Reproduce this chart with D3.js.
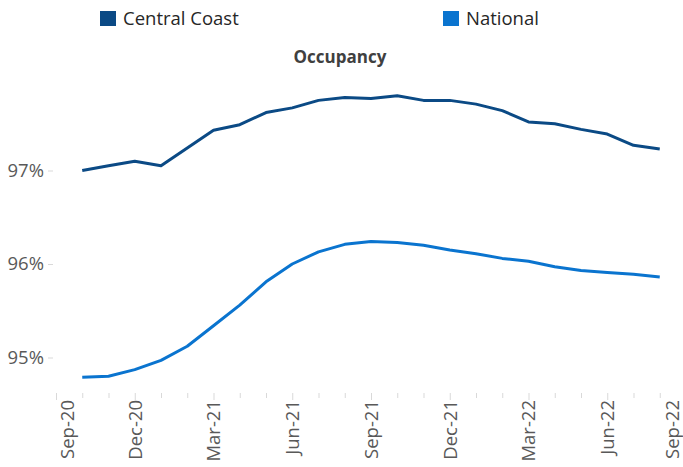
<!DOCTYPE html>
<html>
<head>
<meta charset="utf-8">
<script src="https://cdn.jsdelivr.net/npm/d3@7"></script>
<style>
  body { margin: 0; background: #fff; }
  svg { display: block; font-family: "Open Sans", sans-serif; }
</style>
</head>
<body>
<script>
// month labels for the axis, Sep-20 .. Sep-22
var months = ['Sep-20','Oct-20','Nov-20','Dec-20','Jan-21','Feb-21','Mar-21','Apr-21','May-21',
  'Jun-21','Jul-21','Aug-21','Sep-21','Oct-21','Nov-21','Dec-21','Jan-22','Feb-22','Mar-22',
  'Apr-22','May-22','Jun-22','Jul-22','Aug-22','Sep-22'];
// months with data (Oct-20 .. Aug-22)
var dataMonths = months.slice(1, 24);

// occupancy %
var centralCoast = [97.00, 97.05, 97.10, 97.05, 97.24, 97.43, 97.49, 97.62, 97.67, 97.75, 97.78, 97.77,
  97.80, 97.75, 97.75, 97.71, 97.64, 97.52, 97.50, 97.44, 97.39, 97.27, 97.23];
var national = [94.79, 94.80, 94.87, 94.97, 95.12, 95.34, 95.56, 95.81, 96.00, 96.13, 96.21, 96.24,
  96.23, 96.20, 96.15, 96.11, 96.06, 96.03, 95.97, 95.93, 95.91, 95.89, 95.86];

var yTicks = [95, 96, 97];
var xLabels = ['Sep-20','Dec-20','Mar-21','Jun-21','Sep-21','Dec-21','Mar-22','Jun-22','Sep-22'];

var seriesNames = ['Central Coast', 'National'];
var colors = ['#0b4a85', '#0a74cf'];

var width = 683, height = 467;

var svg = d3.select('body').append('svg')
    .attr('width', width)
    .attr('height', height);

// scales
var x = d3.scalePoint()
    .domain(months)
    .range([56, 56 + 26.25 * 24]);
var y = d3.scaleLinear()
    .domain([95, 97])
    .range([357.5, 170.5]);

// y axis: labels + short light ticks, no line
var yAxis = svg.append('g')
    .attr('transform', 'translate(53, 0)')
    .call(d3.axisLeft(y).tickValues(yTicks).tickSize(5).tickPadding(4)
      .tickFormat(function(d) { return d + '%'; }));
yAxis.select('.domain').remove();
yAxis.selectAll('line').attr('stroke', '#d9d9d9');
yAxis.selectAll('text')
    .attr('fill', '#595959')
    .style('font-size', '18.5px')
    .style('font-family', '"Open Sans", sans-serif');

// x axis: monthly ticks, quarterly labels
var xAxis = svg.append('g')
    .attr('transform', 'translate(0, 393)')
    .call(d3.axisBottom(x).tickSize(5).tickFormat(function(d) {
      return xLabels.indexOf(d) >= 0 ? d : '';
    }));
xAxis.select('.domain').remove();
xAxis.selectAll('line')
    .attr('stroke', '#d9d9d9')
    .attr('y2', function(d) { return xLabels.indexOf(d) >= 0 ? 7 : 5; });

// labels are kept between these centres (edge labels pushed inward)
var labelMin = 67, labelMax = 672;
xAxis.selectAll('text')
    .attr('fill', '#595959')
    .style('font-size', '18.5px')
    .style('font-family', '"Open Sans", sans-serif')
    .style('text-anchor', 'end')
    .attr('y', 0)
    .attr('x', -7)
    .attr('dy', '0.35em')
    .attr('transform', function(d) {
      var px = x(d), shift = Math.max(labelMin, Math.min(labelMax, px)) - px;
      return 'rotate(-90) translate(0,' + shift + ')';
    });

// lines
var line = d3.line()
    .x(function(d, i) { return x(dataMonths[i]); })
    .y(function(d) { return y(d); });

[centralCoast, national].forEach(function(vals, k) {
  svg.append('path')
      .datum(vals)
      .attr('fill', 'none')
      .attr('stroke', colors[k])
      .attr('stroke-width', 3)
      .attr('stroke-linejoin', 'round')
      .attr('d', line);
});

// legend
var legendX = [100, 443];
seriesNames.forEach(function(name, k) {
  var g = svg.append('g').attr('transform', 'translate(' + legendX[k] + ', 11)');
  g.append('rect')
      .attr('width', 16)
      .attr('height', 15)
      .attr('fill', colors[k]);
  g.append('text')
      .attr('x', 23)
      .attr('y', 14)
      .attr('fill', '#262626')
      .style('font-size', '18.5px')
      .text(name);
});

// title
svg.append('text')
    .attr('x', 340)
    .attr('y', 63)
    .style('text-anchor', 'middle')
    .style('font-size', '17px')
    .style('font-weight', 'bold')
    .attr('fill', '#404040')
    .text('Occupancy');
</script>
</body>
</html>
